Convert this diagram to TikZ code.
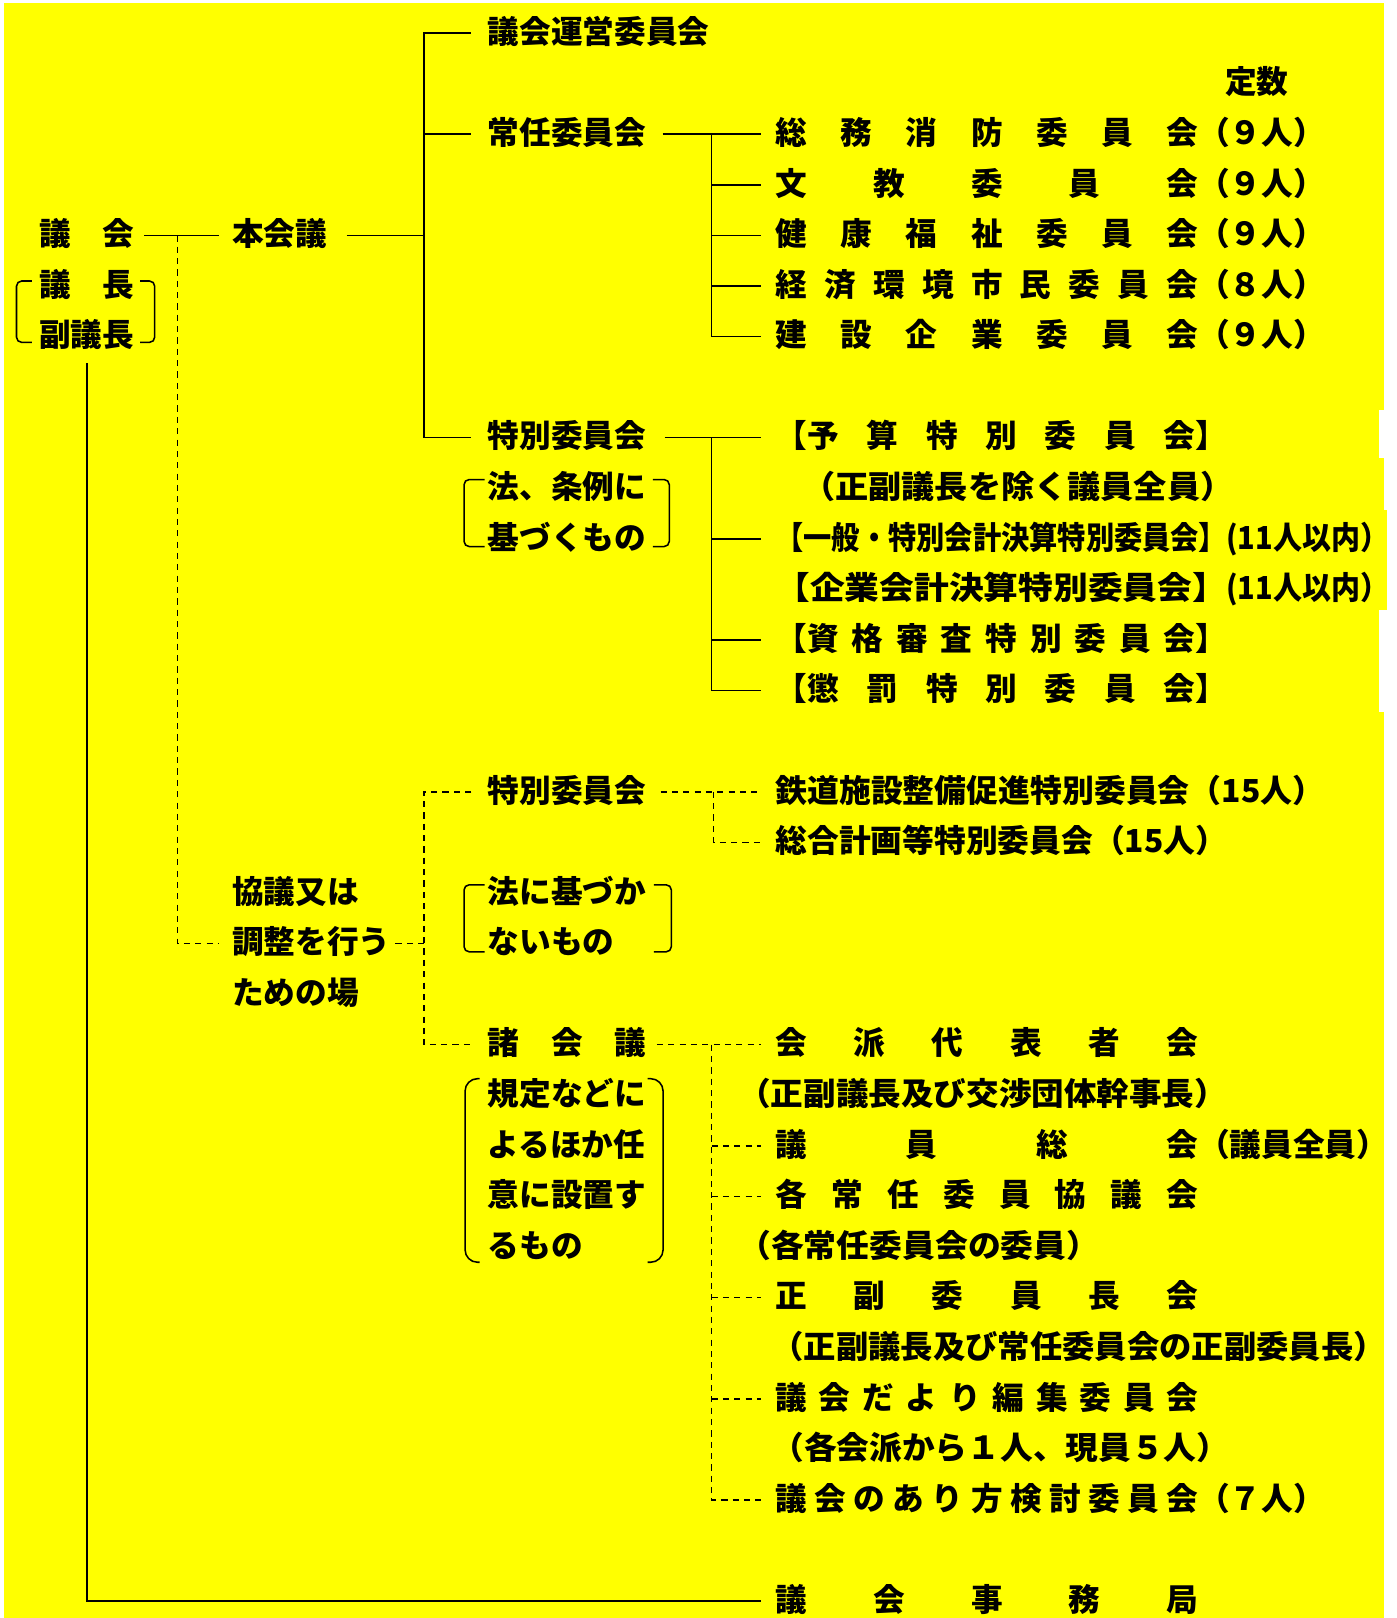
\documentclass[tikz,border=0pt]{standalone}
\usepackage{fontspec}
\setmainfont{Noto Sans CJK JP}
\usepackage{graphicx}
\definecolor{yel}{RGB}{255,255,0}
\newcommand{\spr}[2]{\makebox[#1][s]{#2}}
\newcommand{\fitw}[2]{\resizebox{#1}{\height}{#2}}
\newcommand{\jpf}{\fontsize{15.35pt}{18pt}\selectfont\bfseries}
\tikzset{
 t/.style={anchor=west,inner sep=0pt,outer sep=0pt,font=\jpf,text height=1em,text depth=0em},
 ln/.style={line width=0.75pt},
 dl/.style={line width=0.75pt,dash pattern=on 3pt off 2.5pt},
 br/.style={line width=0.75pt,rounded corners=2.5pt},
 brb/.style={line width=0.75pt,rounded corners=6pt},
}
\begin{document}
\begin{tikzpicture}[x=0.5pt,y=-0.5pt]
\useasboundingbox (0,0) rectangle (1354,1569);
\fill[white] (0,0) rectangle (1354,1569);
\fill[yel] (4,3) rectangle (1342,1569);
\fill[white] (1337,398) rectangle (1342,444);
\fill[white] (1337,592) rectangle (1342,690);
\fill[yel] (1342,495) rectangle (1345,592);

% left column
\node[t] (gikai) at (38,228.2) {\spr{46pt}{議\hfill 会}};
\node[t] (gicho) at (38,277.25) {\spr{46pt}{議\hfill 長}};
\node[t] (fuku) at (38,326.3) {副議長};
\node[t] (honkai) at (225,228.2) {本会議};
\node[t] (unei) at (473,32) {議会運営委員会};
\node[t] (teisu) at (1188,81.05) {定数};
\node[t] (jonin) at (473,130.1) {常任委員会};
\node[t] (c1) at (752,130.1) {\spr{205pt}{総\hfill 務\hfill 消\hfill 防\hfill 委\hfill 員\hfill 会}（９人）};
\node[t] (c2) at (752,179.15) {\spr{205pt}{文\hfill 教\hfill 委\hfill 員\hfill 会}（９人）};
\node[t] (c3) at (752,228.2) {\spr{205pt}{健\hfill 康\hfill 福\hfill 祉\hfill 委\hfill 員\hfill 会}（９人）};
\node[t] (c4) at (752,277.25) {\spr{205pt}{経\hfill 済\hfill 環\hfill 境\hfill 市\hfill 民\hfill 委\hfill 員\hfill 会}（８人）};
\node[t] (c5) at (752,326.3) {\spr{205pt}{建\hfill 設\hfill 企\hfill 業\hfill 委\hfill 員\hfill 会}（９人）};

\node[t] (tokubetsu) at (473,424.4) {特別委員会};
\node[t] (hou1) at (473,473.45) {法、条例に};
\node[t] (hou2) at (473,522.5) {基づくもの};
\node[t] (s1) at (752,424.4) {\spr{219pt}{【予\hfill 算\hfill 特\hfill 別\hfill 委\hfill 員\hfill 会】}};
\node[t] (s1b) at (778,473.45) {\fitw{209pt}{（正副議長を除く議員全員）}};
\node[t] (s2) at (752,522.5) {\fitw{219pt}{【一般・特別会計決算特別委員会】}};
\node[t] (s2n) at (1189,522.5) {\fitw{79pt}{(11人以内）}};
\node[t] (s3) at (752,571.55) {\fitw{219pt}{【企業会計決算特別委員会】}};
\node[t] (s3n) at (1189,571.55) {\fitw{79pt}{(11人以内）}};
\node[t] (s4) at (752,620.6) {\spr{219pt}{【資\hfill 格\hfill 審\hfill 査\hfill 特\hfill 別\hfill 委\hfill 員\hfill 会】}};
\node[t] (s5) at (752,669.65) {\spr{219pt}{【懲\hfill 罰\hfill 特\hfill 別\hfill 委\hfill 員\hfill 会】}};

\node[t] (tok2) at (473,767.75) {特別委員会};
\node[t] (tetsu) at (752,767.75) {\fitw{266pt}{鉄道施設整備促進特別委員会（15人）}};
\node[t] (sogo) at (752,816.8) {\fitw{219pt}{総合計画等特別委員会（15人）}};
\node[t] (kyogi1) at (225,865.85) {協議又は};
\node[t] (kyogi2) at (225,914.9) {調整を行う};
\node[t] (kyogi3) at (225,963.95) {ための場};
\node[t] (hn1) at (473,865.85) {法に基づか};
\node[t] (hn2) at (473,914.9) {ないもの};
\node[t] (sho) at (473,1013) {\spr{77pt}{諸\hfill 会\hfill 議}};
\node[t] (k1) at (473,1062.05) {規定などに};
\node[t] (k2) at (473,1111.1) {よるほか任};
\node[t] (k3) at (473,1160.15) {意に設置す};
\node[t] (k4) at (473,1209.2) {るもの};
\node[t] (m1) at (752,1013) {\spr{205pt}{会\hfill 派\hfill 代\hfill 表\hfill 者\hfill 会}};
\node[t] (m1b) at (716,1062.05) {\fitw{237pt}{（正副議長及び交渉団体幹事長）}};
\node[t] (m2) at (752,1111.1) {\spr{205pt}{議\hfill 員\hfill 総\hfill 会}（議員全員）};
\node[t] (m3) at (752,1160.15) {\spr{205pt}{各\hfill 常\hfill 任\hfill 委\hfill 員\hfill 協\hfill 議\hfill 会}};
\node[t] (m3b) at (716,1209.2) {\fitw{175pt}{（各常任委員会の委員）}};
\node[t] (m4) at (752,1258.25) {\spr{205pt}{正\hfill 副\hfill 委\hfill 員\hfill 長\hfill 会}};
\node[t] (m4b) at (748,1307.3) {\fitw{298pt}{（正副議長及び常任委員会の正副委員長）}};
\node[t] (m5) at (752,1356.35) {\spr{205pt}{議\hfill 会\hfill だ\hfill よ\hfill り\hfill 編\hfill 集\hfill 委\hfill 員\hfill 会}};
\node[t] (m5b) at (748,1405.4) {\fitw{222pt}{（各会派から１人、現員５人）}};
\node[t] (m6) at (752,1454.45) {\spr{205pt}{議\hfill 会\hfill の\hfill あ\hfill り\hfill 方\hfill 検\hfill 討\hfill 委\hfill 員\hfill 会}（７人）};
\node[t] (jimu) at (752,1552.55) {\spr{205pt}{議\hfill 会\hfill 事\hfill 務\hfill 局}};

% junction coordinates
\coordinate (Tm) at (411,228.2);
\coordinate (T1) at (411,32);
\coordinate (T2) at (411,424.4);
\coordinate (B1) at (690,130.1);
\coordinate (S1) at (690,424.4);
\coordinate (D0) at (172,228.2);
\coordinate (E1) at (411,767.75);
\coordinate (E2) at (411,1013);
\coordinate (F1) at (692,767.75);
\coordinate (G1) at (690,1013);

% solid connectors
\draw[ln] ([xshift=5pt]gikai.east) -- ([xshift=-6.5pt]honkai.west);
\draw[ln] ([xshift=9.5pt]honkai.east) -- (Tm);
\draw[ln] (T2) -- (T1) -- ([xshift=-8pt]unei.west);
\draw[ln] (T1 |- jonin.west) -- ([xshift=-8pt]jonin.west);
\draw[ln] (T2) -- ([xshift=-8pt]tokubetsu.west);
\draw[ln] ([xshift=8pt]jonin.east) -- ([xshift=-7pt]c1.west);
\draw[ln] (B1) |- ([xshift=-7pt]c5.west);
\foreach \n in {c2,c3,c4} \draw[ln] (B1 |- \n.west) -- ([xshift=-7pt]\n.west);
\draw[ln] ([xshift=9pt]tokubetsu.east) -- ([xshift=-7pt]s1.west);
\draw[ln] (S1) |- ([xshift=-7pt]s5.west);
\foreach \n in {s2,s4} \draw[ln] (S1 |- \n.west) -- ([xshift=-7pt]\n.west);
\draw[line width=1.1pt] ([yshift=-8pt]fuku.south) |- ([xshift=-7pt]jimu.west);

% dashed connectors
\draw[dl] (D0) |- ([xshift=-6.5pt]kyogi2.west);
\draw[dl] ([xshift=2.5pt]kyogi2.east) -- (E1 |- kyogi2.west);
\draw[dl] ([xshift=-8pt]tok2.west) -- (E1) -- (E2) -- ([xshift=-8pt]sho.west);
\draw[dl] ([xshift=7pt]tok2.east) -- ([xshift=-7pt]tetsu.west);
\draw[dl] (F1) |- ([xshift=-7pt]sogo.west);
\draw[dl] ([xshift=5pt]sho.east) -- ([xshift=-7pt]m1.west);
\draw[dl] (G1) |- ([xshift=-7pt]m6.west);
\foreach \n in {m2,m3,m4,m5} \draw[dl] (G1 |- \n.west) -- ([xshift=-7pt]\n.west);

% brackets
\draw[br] (31,272.5) -- (16,272.5) -- (16,332) -- (31,332);
\draw[br] (136,272.5) -- (150,272.5) -- (150,332) -- (136,332);
\draw[br] (470,465) -- (450,465) -- (450,530) -- (470,530);
\draw[br] (633,465) -- (649,465) -- (649,530) -- (633,530);
\draw[br] (470,858) -- (450,858) -- (450,923) -- (470,923);
\draw[br] (634,858) -- (651,858) -- (651,923) -- (634,923);
\draw[brb] (465,1046) -- (451,1046) -- (451,1224) -- (465,1224);
\draw[brb] (628,1046) -- (643,1046) -- (643,1224) -- (628,1224);
\end{tikzpicture}
\end{document}
